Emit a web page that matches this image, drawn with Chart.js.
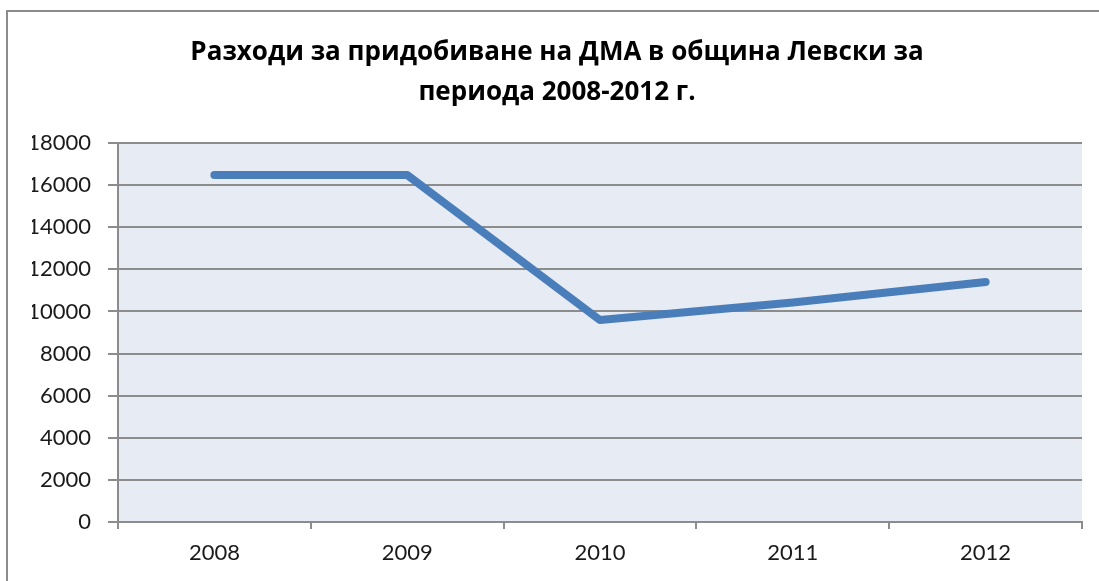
<!DOCTYPE html>
<html lang="bg">
<head>
<meta charset="utf-8">
<title>Разходи за придобиване на ДМА</title>
<script src="https://cdn.jsdelivr.net/npm/chart.js@4.4.0/dist/chart.umd.min.js"></script>
<style>
    html, body { margin: 0; padding: 0; background: #ffffff; overflow: hidden; }
    #wrap { position: relative; width: 1099px; height: 581px; }
    #marco { position: absolute; left: 6px; top: 10px; width: 1200px; height: 700px; border: 2px solid #8c8c8c; }
    #grafico { position: absolute; left: 0; top: 0; }
</style>
</head>
<body>
<div id="wrap">
    <div id="marco"></div>
    <canvas id="grafico" width="1099" height="581"></canvas>
</div>
<script>
// datos
const anios = ['2008', '2009', '2010', '2011', '2012'];
const gastos = [16480, 16480, 9590, 10420, 11400];
const ticksY = [0, 2000, 4000, 6000, 8000, 10000, 12000, 14000, 16000, 18000];
const titulo = ['Разходи за придобиване на ДМА в община Левски за', 'периода 2008-2012 г.'];

const fuente = 'Lato, "Open Sans", sans-serif';
const fuenteTitulo = '"Open Sans", "Noto Sans", sans-serif';

// fondo del area de trazado
const fondoPlot = {
    id: 'fondoPlot',
    beforeDraw(chart) {
        const { ctx, chartArea: a } = chart;
        ctx.save();
        ctx.fillStyle = '#e7ebf3';
        ctx.fillRect(a.left, a.top, a.right - a.left, a.bottom - a.top);
        ctx.restore();
    }
};

function renderizarGrafico() {
    const ctx = document.getElementById('grafico').getContext('2d');
    new Chart(ctx, {
        type: 'line',
        data: {
            labels: anios,
            datasets: [{
                data: gastos,
                borderColor: '#4a7ebb',
                borderWidth: 8,
                borderCapStyle: 'round',
                borderJoinStyle: 'round',
                pointRadius: 0,
                tension: 0,
                fill: false
            }]
        },
        options: {
            responsive: false,
            animation: false,
            layout: { padding: { left: 32, right: 17, top: 0, bottom: 0 } },
            plugins: {
                legend: { display: false },
                tooltip: { enabled: false },
                title: {
                    display: true,
                    text: titulo,
                    color: '#000000',
                    font: { family: fuenteTitulo, size: 26, weight: 'bold', lineHeight: 40 / 26 },
                    padding: { top: 33, bottom: 30 }
                }
            },
            scales: {
                x: {
                    offset: true,
                    grid: { offset: true, drawOnChartArea: false, drawTicks: true, tickLength: 7, color: '#8c8c8c', lineWidth: 2 },
                    border: { display: true, color: '#8c8c8c', width: 2 },
                    ticks: { color: '#1a1a1a', font: { family: fuente, size: 22 }, padding: 11, maxRotation: 0 },
                    afterFit(scale) { scale.height = 59; }
                },
                y: {
                    min: 0,
                    max: 18000,
                    afterBuildTicks(scale) { scale.ticks = ticksY.map(v => ({ value: v })); },
                    grid: { color: '#8c8c8c', lineWidth: 2, tickLength: 10, drawTicks: true },
                    border: { display: true, color: '#8c8c8c', width: 2 },
                    ticks: { color: '#1a1a1a', font: { family: fuente, size: 22 }, padding: 17, callback: v => String(v) },
                    afterFit(scale) { scale.width = 86; }
                }
            }
        },
        plugins: [fondoPlot]
    });
}

renderizarGrafico();
</script>
</body>
</html>
